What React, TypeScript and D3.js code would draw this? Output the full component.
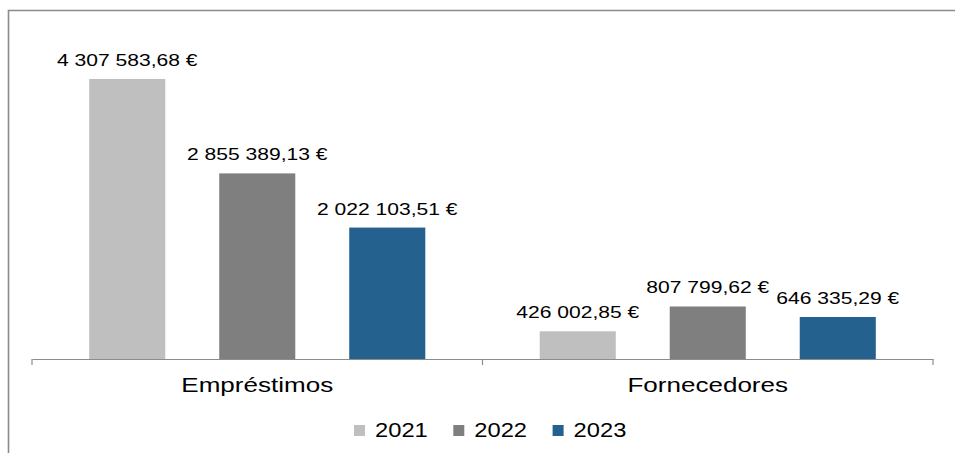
import React, { useEffect, useRef } from 'react';
import * as d3 from 'd3';

const categories = ['Empréstimos', 'Fornecedores'];
const years = ['2021', '2022', '2023'];
const values2021 = [4307583.68, 426002.85];
const values2022 = [2855389.13, 807799.62];
const values2023 = [2022103.51, 646335.29];
const colors = ['#BFBFBF', '#7F7F7F', '#25618E'];

const series = [values2021, values2022, values2023];

// pt-PT style: space thousands, comma decimals
const fmt = (v: number) => {
  const [int, dec] = v.toFixed(2).split('.');
  return int.replace(/\B(?=(\d{3})+(?!\d))/g, ' ') + ',' + dec + ' €';
};

const App = () => {
  const ref = useRef<SVGSVGElement>(null);

  useEffect(() => {
    const width = 955;
    const height = 453;
    const stretch = 1.24;
    const font = 'Arial, "Liberation Sans", sans-serif';

    const svg = d3.select(ref.current);
    svg.selectAll('*').remove();

    // frame (right and bottom edges fall outside the picture)
    svg
      .append('path')
      .attr('d', `M8.5,${height + 5}V10.5H${width + 5}`)
      .attr('fill', 'none')
      .attr('stroke', '#8a8a8a')
      .attr('stroke-width', 1.6);

    const x0 = d3.scaleBand().domain(categories).range([32, 933]).padding(0);
    const x1 = d3
      .scaleBand()
      .domain(years)
      .range([0, x0.bandwidth()])
      .paddingInner(0.415)
      .paddingOuter(0.44);
    const y = d3.scaleLinear().domain([0, 5000000]).range([359, 34]);

    const groups = svg
      .selectAll('g.cat')
      .data(categories)
      .enter()
      .append('g')
      .attr('class', 'cat')
      .attr('transform', (d) => `translate(${x0(d)},0)`);

    groups.each(function (cat, ci) {
      const g = d3.select(this);
      const rows = years.map((yr, si) => ({ yr, v: series[si][ci], c: colors[si] }));

      g.selectAll('rect')
        .data(rows)
        .enter()
        .append('rect')
        .attr('x', (d) => x1(d.yr)!)
        .attr('y', (d) => y(d.v))
        .attr('width', x1.bandwidth())
        .attr('height', (d) => y(0) - y(d.v))
        .attr('fill', (d) => d.c);

      g.selectAll('text.lbl')
        .data(rows)
        .enter()
        .append('text')
        .attr('class', 'lbl')
        .attr(
          'transform',
          (d) => `translate(${x1(d.yr)! + x1.bandwidth() / 2},${y(d.v) - 13}) scale(${stretch},1)`
        )
        .attr('text-anchor', 'middle')
        .attr('font-family', font)
        .attr('font-size', 17)
        .attr('fill', '#000')
        .text((d) => fmt(d.v));
    });

    // category axis
    const axis = svg
      .append('g')
      .attr('transform', `translate(0,${y(0)})`)
      .call(
        d3
          .axisBottom(x0)
          .tickValues([])
          .tickSizeOuter(0)
      );
    axis.select('.domain').attr('stroke', '#8c8c8c').attr('stroke-width', 1.2);
    const tickXs = [32, ...categories.map((c) => x0(c)! + x0.bandwidth())];
    axis
      .selectAll('line.tk')
      .data(tickXs)
      .enter()
      .append('line')
      .attr('class', 'tk')
      .attr('x1', (d) => d)
      .attr('x2', (d) => d)
      .attr('y1', 0)
      .attr('y2', 6)
      .attr('stroke', '#8c8c8c')
      .attr('stroke-width', 1.2);

    svg
      .selectAll('text.cat')
      .data(categories)
      .enter()
      .append('text')
      .attr('class', 'cat')
      .attr('transform', (d) => `translate(${x0(d)! + x0.bandwidth() / 2},392) scale(${stretch},1)`)
      .attr('text-anchor', 'middle')
      .attr('font-family', font)
      .attr('font-size', 21)
      .attr('fill', '#000')
      .text((d) => d);

    // legend
    const legend = svg
      .selectAll('g.leg')
      .data(years)
      .enter()
      .append('g')
      .attr('class', 'leg')
      .attr('transform', (d, i) => `translate(${354 + i * 99.3},425)`);
    legend
      .append('rect')
      .attr('width', 11)
      .attr('height', 11)
      .attr('fill', (d, i) => colors[i]);
    legend
      .append('text')
      .attr('transform', `translate(21,11.5) scale(1.13,1)`)
      .attr('font-family', font)
      .attr('font-size', 21)
      .attr('fill', '#000')
      .text((d) => d);
  }, []);

  return (
    <svg
      ref={ref}
      width={955}
      height={453}
      style={{ position: 'absolute', left: 0, top: 0, background: '#fff' }}
    />
  );
};

export default App;
